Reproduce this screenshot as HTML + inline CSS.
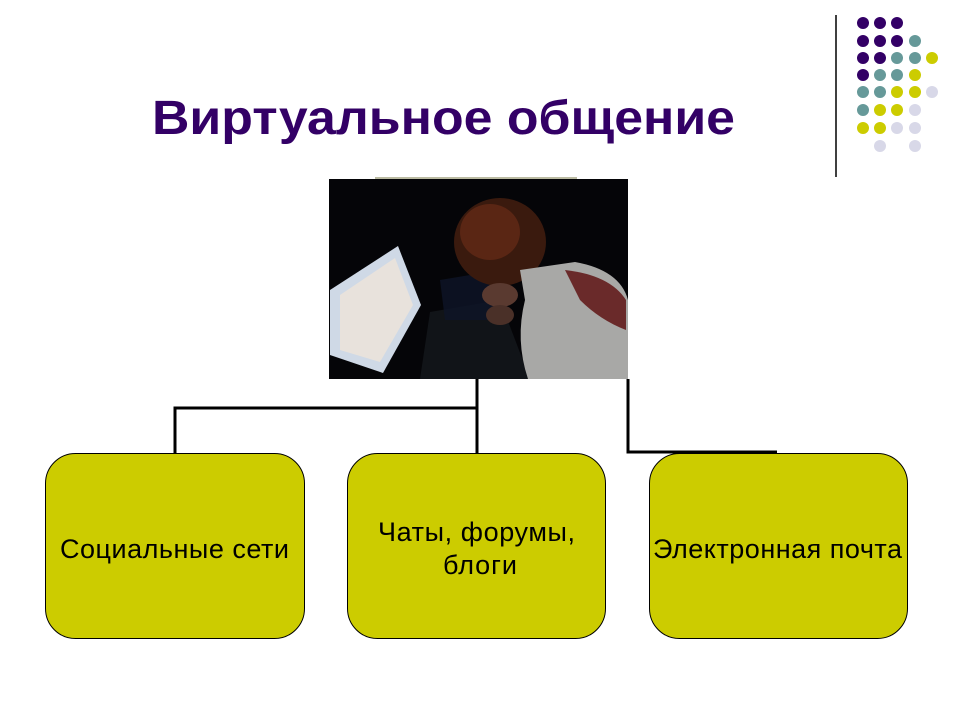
<!DOCTYPE html>
<html><head><meta charset="utf-8"><style>
html,body{margin:0;padding:0;background:#fff;}
</style></head><body>
<svg width="960" height="720" xmlns="http://www.w3.org/2000/svg" style="display:block">
<rect width="960" height="720" fill="#fff"/>
<text x="152" y="134" font-family="Liberation Sans, sans-serif" font-weight="bold" font-size="48" fill="#330066" textLength="583" lengthAdjust="spacingAndGlyphs">Виртуальное общение</text>
<line x1="836" y1="15" x2="836" y2="177" stroke="#000" stroke-width="1.5"/>
<g>
<g fill="#330066">
<circle cx="863" cy="23" r="6"/><circle cx="880" cy="23" r="6"/><circle cx="897" cy="23" r="6"/>
<circle cx="863" cy="41" r="6"/><circle cx="880" cy="41" r="6"/><circle cx="897" cy="41" r="6"/>
<circle cx="863" cy="58" r="6"/><circle cx="880" cy="58" r="6"/>
<circle cx="863" cy="75" r="6"/>
</g>
<g fill="#669999">
<circle cx="915" cy="41" r="6"/>
<circle cx="897" cy="58" r="6"/><circle cx="915" cy="58" r="6"/>
<circle cx="880" cy="75" r="6"/><circle cx="897" cy="75" r="6"/>
<circle cx="863" cy="92" r="6"/><circle cx="880" cy="92" r="6"/>
<circle cx="863" cy="110" r="6"/>
</g>
<g fill="#cccc00">
<circle cx="932" cy="58" r="6"/>
<circle cx="915" cy="75" r="6"/>
<circle cx="897" cy="92" r="6"/><circle cx="915" cy="92" r="6"/>
<circle cx="880" cy="110" r="6"/><circle cx="897" cy="110" r="6"/>
<circle cx="863" cy="128" r="6"/><circle cx="880" cy="128" r="6"/>
</g>
<g fill="#d8d8e8">
<circle cx="932" cy="92" r="6"/>
<circle cx="915" cy="110" r="6"/>
<circle cx="897" cy="128" r="6"/><circle cx="915" cy="128" r="6"/>
<circle cx="880" cy="146" r="6"/><circle cx="915" cy="146" r="6"/>
</g>
</g>
<g>
<rect x="329" y="179" width="299" height="200" fill="#050508"/>
<line x1="375" y1="178" x2="577" y2="178" stroke="#777744" stroke-width="1"/>
<polygon points="330,290 398,246 421,305 383,373 330,355" fill="#cfd9e6"/>
<polygon points="340,295 395,258 413,305 380,362 340,350" fill="#e8e2dc"/>
<polygon points="430,312 500,300 530,379 420,379" fill="#111418"/>
<polygon points="440,280 500,270 510,320 445,320" fill="#0e1428" opacity="0.8"/>
<ellipse cx="500" cy="242" rx="46" ry="44" fill="#3a1a0e"/>
<ellipse cx="490" cy="232" rx="30" ry="28" fill="#5a2614"/>
<path d="M520 270 L575 262 Q620 270 628 300 L628 379 L528 379 Q515 340 525 300 Z" fill="#a8a8a6"/>
<path d="M565 270 Q610 275 626 300 L626 330 Q600 320 580 300 Z" fill="#6a2a2a"/>
<ellipse cx="500" cy="295" rx="18" ry="12" fill="#5a3a30"/>
<ellipse cx="500" cy="315" rx="14" ry="10" fill="#4a3028"/>
</g>
<g stroke="#000" stroke-width="3" fill="none">
<polyline points="175,453 175,408 477,408"/>
<line x1="477" y1="379" x2="477" y2="453"/>
<polyline points="628,379 628,452 777,452"/>
</g>
<g fill="#cccc00" stroke="#000" stroke-width="1">
<rect x="45.5" y="453.5" width="259" height="185" rx="30"/>
<rect x="347.5" y="453.5" width="258" height="185" rx="30"/>
<rect x="649.5" y="453.5" width="258" height="185" rx="30"/>
</g>
<g font-family="Liberation Sans, sans-serif" font-size="27" fill="#000" lengthAdjust="spacingAndGlyphs">
<text x="60" y="558" textLength="229">Социальные сети</text>
<text x="378" y="541" textLength="197">Чаты, форумы,</text>
<text x="443" y="574" textLength="74">блоги</text>
<text x="653" y="558" textLength="249">Электронная почта</text>
</g>
</svg>
</body></html>
